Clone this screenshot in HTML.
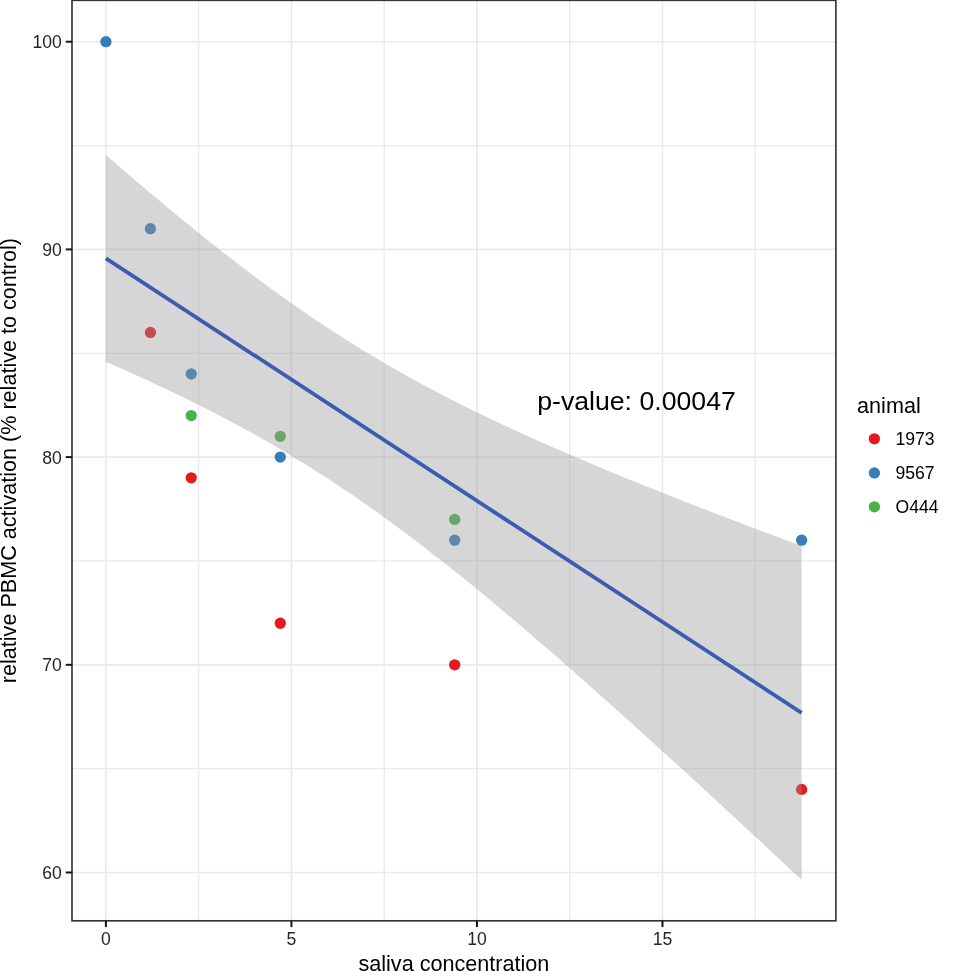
<!DOCTYPE html>
<html><head><meta charset="utf-8"><style>
html,body{margin:0;padding:0;background:#fff;}
svg{display:block;will-change:transform;}
text{font-family:"Liberation Sans",sans-serif;}
.tl{font-size:17.6px;fill:#262626;}
.lt{font-size:17.6px;fill:#000;}
.ti{font-size:21.6px;fill:#000;}
</style></head><body>
<svg width="959" height="971" viewBox="0 0 959 971">
<rect x="0" y="0" width="959" height="971" fill="#fff"/>
<line x1="198.66" y1="0.3" x2="198.66" y2="920.8" stroke="#E9EAEC" stroke-width="1.25"/><line x1="384.19" y1="0.3" x2="384.19" y2="920.8" stroke="#E9EAEC" stroke-width="1.25"/><line x1="569.71" y1="0.3" x2="569.71" y2="920.8" stroke="#E9EAEC" stroke-width="1.25"/><line x1="755.24" y1="0.3" x2="755.24" y2="920.8" stroke="#E9EAEC" stroke-width="1.25"/><line x1="72.0" y1="768.65" x2="835.9" y2="768.65" stroke="#E9EAEC" stroke-width="1.25"/><line x1="72.0" y1="560.95" x2="835.9" y2="560.95" stroke="#E9EAEC" stroke-width="1.25"/><line x1="72.0" y1="353.25" x2="835.9" y2="353.25" stroke="#E9EAEC" stroke-width="1.25"/><line x1="72.0" y1="145.55" x2="835.9" y2="145.55" stroke="#E9EAEC" stroke-width="1.25"/><line x1="105.90" y1="0.3" x2="105.90" y2="920.8" stroke="#E9EAEC" stroke-width="1.65"/><line x1="291.42" y1="0.3" x2="291.42" y2="920.8" stroke="#E9EAEC" stroke-width="1.65"/><line x1="476.95" y1="0.3" x2="476.95" y2="920.8" stroke="#E9EAEC" stroke-width="1.65"/><line x1="662.47" y1="0.3" x2="662.47" y2="920.8" stroke="#E9EAEC" stroke-width="1.65"/><line x1="72.0" y1="872.50" x2="835.9" y2="872.50" stroke="#E9EAEC" stroke-width="1.65"/><line x1="72.0" y1="664.80" x2="835.9" y2="664.80" stroke="#E9EAEC" stroke-width="1.65"/><line x1="72.0" y1="457.10" x2="835.9" y2="457.10" stroke="#E9EAEC" stroke-width="1.65"/><line x1="72.0" y1="249.40" x2="835.9" y2="249.40" stroke="#E9EAEC" stroke-width="1.65"/><line x1="72.0" y1="41.70" x2="835.9" y2="41.70" stroke="#E9EAEC" stroke-width="1.65"/>
<circle cx="105.90" cy="41.70" r="5.65" fill="#377EB8"/><circle cx="150.43" cy="332.48" r="5.65" fill="#E41A1C"/><circle cx="191.24" cy="477.87" r="5.65" fill="#E41A1C"/><circle cx="280.29" cy="623.26" r="5.65" fill="#E41A1C"/><circle cx="454.69" cy="664.80" r="5.65" fill="#E41A1C"/><circle cx="801.62" cy="789.42" r="5.65" fill="#E41A1C"/><circle cx="150.43" cy="228.63" r="5.65" fill="#377EB8"/><circle cx="191.24" cy="374.02" r="5.65" fill="#377EB8"/><circle cx="280.29" cy="457.10" r="5.65" fill="#377EB8"/><circle cx="454.69" cy="540.18" r="5.65" fill="#377EB8"/><circle cx="801.62" cy="540.18" r="5.65" fill="#377EB8"/><circle cx="191.24" cy="415.56" r="5.65" fill="#4DAF4A"/><circle cx="280.29" cy="436.33" r="5.65" fill="#4DAF4A"/><circle cx="454.69" cy="519.41" r="5.65" fill="#4DAF4A"/>
<polygon points="105.90,154.90 114.71,162.54 123.51,170.14 132.32,177.69 141.13,185.20 149.93,192.66 158.74,200.06 167.55,207.41 176.35,214.71 185.16,221.94 193.97,229.11 202.77,236.21 211.58,243.24 220.39,250.19 229.19,257.07 238.00,263.87 246.81,270.59 255.61,277.22 264.42,283.76 273.22,290.20 282.03,296.56 290.84,302.81 299.64,308.97 308.45,315.03 317.26,320.98 326.06,326.84 334.87,332.59 343.68,338.24 352.48,343.78 361.29,349.23 370.10,354.57 378.90,359.81 387.71,364.96 396.52,370.02 405.32,374.98 414.13,379.85 422.94,384.64 431.74,389.34 440.55,393.97 449.36,398.52 458.16,402.99 466.97,407.39 475.78,411.73 484.58,416.00 493.39,420.21 502.20,424.36 511.00,428.46 519.81,432.51 528.62,436.51 537.42,440.46 546.23,444.37 555.03,448.23 563.84,452.06 572.65,455.84 581.45,459.60 590.26,463.31 599.07,467.00 607.87,470.66 616.68,474.29 625.49,477.89 634.29,481.47 643.10,485.02 651.91,488.55 660.71,492.05 669.52,495.54 678.33,499.01 687.13,502.46 695.94,505.89 704.75,509.30 713.55,512.70 722.36,516.08 731.17,519.45 739.97,522.81 748.78,526.15 757.59,529.48 766.39,532.80 775.20,536.11 784.01,539.40 792.81,542.69 801.62,545.96 801.62,879.88 792.81,871.65 784.01,863.42 775.20,855.21 766.39,847.01 757.59,838.82 748.78,830.64 739.97,822.47 731.17,814.32 722.36,806.18 713.55,798.06 704.75,789.95 695.94,781.85 687.13,773.77 678.33,765.71 669.52,757.67 660.71,749.65 651.91,741.65 643.10,733.67 634.29,725.71 625.49,717.78 616.68,709.88 607.87,702.00 599.07,694.14 590.26,686.32 581.45,678.53 572.65,670.78 563.84,663.06 555.03,655.37 546.23,647.73 537.42,640.13 528.62,632.57 519.81,625.06 511.00,617.60 502.20,610.19 493.39,602.83 484.58,595.53 475.78,588.30 466.97,581.12 458.16,574.02 449.36,566.98 440.55,560.02 431.74,553.14 422.94,546.33 414.13,539.61 405.32,532.98 396.52,526.43 387.71,519.97 378.90,513.61 370.10,507.35 361.29,501.19 352.48,495.12 343.68,489.16 334.87,483.30 326.06,477.54 317.26,471.89 308.45,466.33 299.64,460.88 290.84,455.53 282.03,450.28 273.22,445.12 264.42,440.06 255.61,435.09 246.81,430.21 238.00,425.42 229.19,420.71 220.39,416.08 211.58,411.53 202.77,407.05 193.97,402.64 185.16,398.30 176.35,394.02 167.55,389.81 158.74,385.65 149.93,381.55 141.13,377.50 132.32,373.50 123.51,369.54 114.71,365.63 105.90,361.76" fill="#999999" fill-opacity="0.4"/>
<line x1="105.90" y1="258.33" x2="801.62" y2="712.92" stroke="#3C5CB4" stroke-width="3.8"/>
<rect x="72.0" y="0.3" width="763.90" height="920.50" fill="none" stroke="#333333" stroke-width="1.65"/>
<line x1="105.90" y1="920.8" x2="105.90" y2="927.1" stroke="#151515" stroke-width="2"/><line x1="291.42" y1="920.8" x2="291.42" y2="927.1" stroke="#151515" stroke-width="2"/><line x1="476.95" y1="920.8" x2="476.95" y2="927.1" stroke="#151515" stroke-width="2"/><line x1="662.47" y1="920.8" x2="662.47" y2="927.1" stroke="#151515" stroke-width="2"/><line x1="65.7" y1="872.50" x2="72.0" y2="872.50" stroke="#151515" stroke-width="2"/><line x1="65.7" y1="664.80" x2="72.0" y2="664.80" stroke="#151515" stroke-width="2"/><line x1="65.7" y1="457.10" x2="72.0" y2="457.10" stroke="#151515" stroke-width="2"/><line x1="65.7" y1="249.40" x2="72.0" y2="249.40" stroke="#151515" stroke-width="2"/><line x1="65.7" y1="41.70" x2="72.0" y2="41.70" stroke="#151515" stroke-width="2"/>
<text x="105.90" y="944.6" text-anchor="middle" class="tl">0</text><text x="291.42" y="944.6" text-anchor="middle" class="tl">5</text><text x="476.95" y="944.6" text-anchor="middle" class="tl">10</text><text x="662.47" y="944.6" text-anchor="middle" class="tl">15</text><text x="61.8" y="879.00" text-anchor="end" class="tl">60</text><text x="61.8" y="671.30" text-anchor="end" class="tl">70</text><text x="61.8" y="463.60" text-anchor="end" class="tl">80</text><text x="61.8" y="255.90" text-anchor="end" class="tl">90</text><text x="61.8" y="48.20" text-anchor="end" class="tl">100</text>
<text x="453.9" y="970.6" text-anchor="middle" class="ti">saliva concentration</text>
<text transform="translate(16.3,460.6) rotate(-90)" x="0" y="0" text-anchor="middle" class="ti">relative PBMC activation (% relative to control)</text>
<text x="537.2" y="410" textLength="198.6" lengthAdjust="spacingAndGlyphs" style="font-size:25px;fill:#000">p-value: 0.00047</text>
<text x="857.1" y="413.4" class="ti">animal</text>
<circle cx="874.4" cy="438.8" r="5.65" fill="#E41A1C"/>
<circle cx="874.4" cy="472.9" r="5.65" fill="#377EB8"/>
<circle cx="874.4" cy="506.8" r="5.65" fill="#4DAF4A"/>
<text x="895.5" y="445.4" class="lt">1973</text>
<text x="895.5" y="479.4" class="lt">9567</text>
<text x="895.5" y="513.3" class="lt">O444</text>
</svg>
</body></html>
